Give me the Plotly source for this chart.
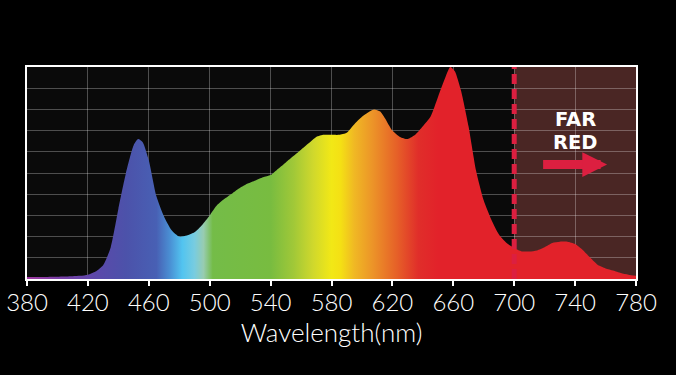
import plotly.graph_objects as go

# ---- data ----
wavelength = [380, 390, 400, 410, 415, 420, 425, 430, 435, 440,
              445, 450, 453, 456, 460, 465, 470, 475, 480, 485,
              490, 495, 500, 505, 510, 515, 520, 525, 530, 535,
              540, 545, 550, 555, 560, 565, 570, 575, 580, 585,
              590, 595, 600, 605, 608, 612, 615, 620, 625, 630,
              635, 640, 645, 650, 655, 658, 661, 665, 670, 675,
              680, 685, 690, 695, 700, 705, 710, 715, 720, 725,
              730, 735, 740, 745, 750, 755, 760, 765, 770, 775,
              780]
intensity = [0.010, 0.010, 0.011, 0.013, 0.015, 0.020, 0.035, 0.065, 0.15, 0.33,
             0.50, 0.63, 0.66, 0.645, 0.56, 0.39, 0.295, 0.23, 0.20, 0.205,
             0.22, 0.255, 0.30, 0.35, 0.38, 0.405, 0.43, 0.45, 0.465, 0.48,
             0.49, 0.52, 0.55, 0.58, 0.61, 0.64, 0.67, 0.68, 0.68, 0.68,
             0.69, 0.73, 0.765, 0.79, 0.80, 0.79, 0.76, 0.70, 0.67, 0.66,
             0.68, 0.72, 0.765, 0.86, 0.955, 1.0, 0.98, 0.89, 0.72, 0.51,
             0.37, 0.28, 0.21, 0.17, 0.146, 0.13, 0.13, 0.135, 0.15, 0.17,
             0.176, 0.176, 0.165, 0.137, 0.10, 0.066, 0.05, 0.04, 0.028, 0.02,
             0.015]

x_ticks = [380, 420, 460, 500, 540, 580, 620, 660, 700, 740, 780]
far_red_start = 700
far_red_end = 780
label_line1 = "FAR"
label_line2 = "RED"
x_title = "Wavelength(nm)"

# spectral gradient stops: (wavelength, colour)
spectrum_stops = [
    (380, "#a03aa0"), (400, "#7a3ea6"), (425, "#5c48aa"), (445, "#4c52aa"),
    (465, "#4860b4"), (474, "#4a90d4"), (482, "#52c4f0"), (490, "#78cce0"),
    (496, "#98ccb0"), (502, "#74bc48"), (540, "#78bc40"), (555, "#a0c838"),
    (568, "#d0d82c"), (580, "#f2e816"), (586, "#f4e014"), (595, "#f0b824"),
    (607, "#ec9428"), (623, "#e66028"), (637, "#e02e2a"), (650, "#e2222a"),
    (780, "#e2222a"),
]

lo, hi = 380, 780
colorscale = [[(w - lo) / (hi - lo), c] for w, c in spectrum_stops]

fig = go.Figure()
fig.add_trace(go.Scatter(
    x=wavelength, y=intensity, mode="lines",
    line=dict(width=0, shape="spline", smoothing=0.6, color="#e2222a"),
    fill="tozeroy",
    fillgradient=dict(type="horizontal", colorscale=colorscale, start=lo, stop=hi),
    hoverinfo="skip", showlegend=False,
))

# far red shaded region
fig.add_shape(type="rect", xref="x", yref="paper", x0=far_red_start, x1=far_red_end,
              y0=0, y1=1, fillcolor="rgb(74,38,36)", line=dict(width=0), layer="below")
# dashed divider
fig.add_shape(type="line", xref="x", yref="paper", x0=far_red_start, x1=far_red_start,
              y0=0, y1=1, line=dict(color="#dc1f40", width=5, dash="10px,5px"), layer="above")

lab_font = dict(family="DejaVu Sans", size=19.5, color="white", weight="bold")
fig.add_annotation(x=740, y=0.751, xref="x", yref="y", text=label_line1, showarrow=False,
                   font=lab_font)
fig.add_annotation(x=740, y=0.642, xref="x", yref="y", text=label_line2, showarrow=False,
                   font=lab_font)
fig.add_annotation(x=761, y=0.54, ax=718, ay=0.54, xref="x", yref="y", axref="x", ayref="y",
                   text="", showarrow=True, arrowhead=2, arrowwidth=9, arrowsize=0.55,
                   arrowcolor="#dc1f40")

grid = "rgba(255,255,255,0.28)"
fig.update_xaxes(range=[lo, hi], tickvals=x_ticks, ticktext=[str(t) for t in x_ticks],
                 ticks="outside", ticklen=5, tickwidth=1.5, tickcolor="white",
                 showgrid=True, gridcolor=grid, gridwidth=1,
                 showline=True, linecolor="white", linewidth=2, mirror=True,
                 tickfont=dict(family="Lato", size=24, color="white", weight=300),
                 ticklabelstandoff=-4,
                 title=dict(text=x_title, standoff=7,
                            font=dict(family="Lato", size=26, color="white", weight=300)),
                 zeroline=False, automargin=False)
fig.update_yaxes(range=[0, 1], dtick=0.1, showticklabels=False, ticks="",
                 showgrid=True, gridcolor=grid, gridwidth=1,
                 showline=True, linecolor="white", linewidth=2, mirror=True,
                 zeroline=False, automargin=False)

fig.update_layout(width=676, height=375, margin=dict(l=27, r=40, t=67, b=96),
                  paper_bgcolor="#000000", plot_bgcolor="#0a0a0a")

fig.write_html("out.html", config={"displayModeBar": False},
               post_script="document.body.style.margin='0';document.body.style.background='#000';")
